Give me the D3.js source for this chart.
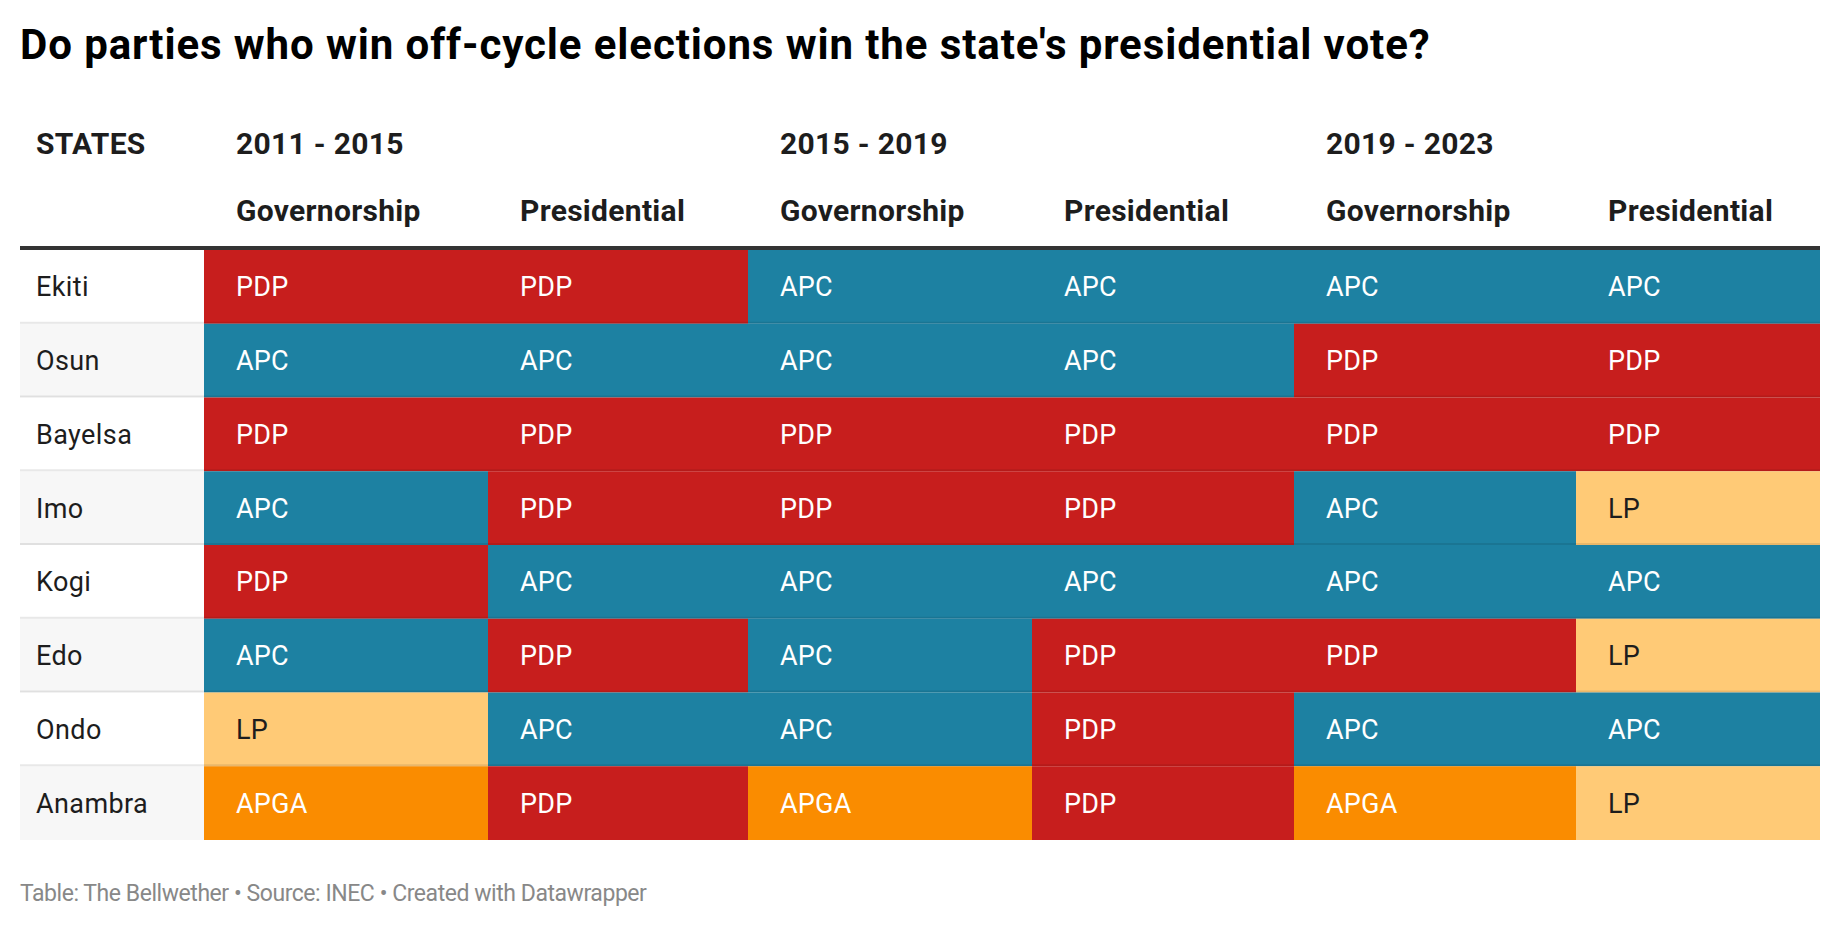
<!DOCTYPE html>
<html>
<head>
<meta charset="utf-8">
<script src="https://cdn.jsdelivr.net/npm/d3@7"></script>
<style>
  body { margin: 0; background: #fff; }
  text { font-family: Roboto, "Noto Sans", sans-serif; }
</style>
</head>
<body>
<script>
// data
var title = "Do parties who win off-cycle elections win the state's presidential vote?";
var footer = "Table: The Bellwether \u2022 Source: INEC \u2022 Created with Datawrapper";
var states = ['Ekiti', 'Osun', 'Bayelsa', 'Imo', 'Kogi', 'Edo', 'Ondo', 'Anambra'];
var periods = ['2011 - 2015', '2015 - 2019', '2019 - 2023'];
var elections = ['Governorship', 'Presidential'];
// one row per state, columns: gov/pres for each period
var results = [
  ['PDP', 'PDP', 'APC', 'APC', 'APC', 'APC'],
  ['APC', 'APC', 'APC', 'APC', 'PDP', 'PDP'],
  ['PDP', 'PDP', 'PDP', 'PDP', 'PDP', 'PDP'],
  ['APC', 'PDP', 'PDP', 'PDP', 'APC', 'LP'],
  ['PDP', 'APC', 'APC', 'APC', 'APC', 'APC'],
  ['APC', 'PDP', 'APC', 'PDP', 'PDP', 'LP'],
  ['LP', 'APC', 'APC', 'PDP', 'APC', 'APC'],
  ['APGA', 'PDP', 'APGA', 'PDP', 'APGA', 'LP']
];
var parties = ['PDP', 'APC', 'LP', 'APGA'];
var party_colors = ['#c71e1d', '#1d81a2', '#ffca76', '#fa8c00'];
var party_text = ['#ffffff', '#ffffff', '#1d1d1d', '#ffffff'];

// layout
var width = 1840, height = 926;
var left = 20, right = 1820;
var state_w = 184;
var col_widths = [284, 260, 284, 262, 282, 244]; // gov columns a bit wider
var table_top = 250, table_bottom = 840;
var pad = 32;

var svg = d3.select('body').append('svg').attr('width', width).attr('height', height);

// column keys and x positions
var cols = [];
periods.forEach(function(p, i) {
  elections.forEach(function(e, j) { cols.push({period: p, election: e, idx: i*2 + j}); });
});
var col_x = [];
var acc = left + state_w;
col_widths.forEach(function(w) { col_x.push(acc); acc += w; });

var x = d3.scaleOrdinal().domain(d3.range(cols.length)).range(col_x);
var xw = d3.scaleOrdinal().domain(d3.range(cols.length)).range(col_widths);
var y = d3.scaleBand().domain(states).range([table_top, table_bottom]);
var color = d3.scaleOrdinal().domain(parties).range(party_colors);
var textColor = d3.scaleOrdinal().domain(parties).range(party_text);

// title
svg.append('text').text(title)
  .attr('x', 20).attr('y', 59)
  .attr('font-size', '42px').attr('font-weight', 700).attr('letter-spacing', '0.9px').attr('fill', '#000');

// headers
svg.append('text').text('STATES')
  .attr('x', left + 16).attr('y', 154)
  .attr('font-size', '30px').attr('font-weight', 700).attr('letter-spacing', '0.3px').attr('fill', '#1d1d1d');

svg.selectAll('.period').data(periods).enter().append('text')
  .attr('class', 'period')
  .text(d => d)
  .attr('x', (d, i) => x(i*2) + pad).attr('y', 154)
  .attr('font-size', '30px').attr('font-weight', 700).attr('letter-spacing', '0.3px').attr('fill', '#1d1d1d');

svg.selectAll('.election').data(cols).enter().append('text')
  .attr('class', 'election')
  .text(d => d.election)
  .attr('x', d => x(d.idx) + pad).attr('y', 221)
  .attr('font-size', '30px').attr('font-weight', 700).attr('letter-spacing', '0.3px').attr('fill', '#1d1d1d');

// rows
var rows = svg.selectAll('.row').data(states).enter().append('g')
  .attr('class', 'row')
  .attr('transform', d => 'translate(0,' + y(d) + ')');

rows.append('rect')
  .attr('x', left).attr('width', state_w).attr('height', y.bandwidth())
  .attr('fill', (d, i) => i % 2 ? '#f7f7f7' : '#ffffff');

rows.append('text').text(d => d)
  .attr('x', left + 16).attr('y', y.bandwidth()/2 + 9.6)
  .attr('font-size', '27px').attr('letter-spacing', '0.4px').attr('fill', '#1d1d1d');

var cells = rows.selectAll('.cell').data((d, i) => results[i].map((p, j) => ({party: p, idx: j})))
  .enter().append('g').attr('class', 'cell');

cells.append('rect')
  .attr('x', d => x(d.idx)).attr('width', d => xw(d.idx))
  .attr('height', y.bandwidth())
  .attr('fill', d => color(d.party));

cells.append('text').text(d => d.party)
  .attr('x', d => x(d.idx) + pad).attr('y', y.bandwidth()/2 + 9.6)
  .attr('font-size', '27px').attr('letter-spacing', '0.2px').attr('fill', d => textColor(d.party));

// row separators
svg.selectAll('.sep').data(states.slice(0, -1)).enter().append('rect')
  .attr('class', 'sep')
  .attr('x', left).attr('width', right - left)
  .attr('y', d => y(d) + y.bandwidth() - 2).attr('height', 2)
  .attr('fill', '#000').attr('fill-opacity', 0.09);

// header rule
svg.append('rect')
  .attr('x', left).attr('width', right - left)
  .attr('y', table_top - 4).attr('height', 4)
  .attr('fill', '#333');

// footer
svg.append('text').text(footer)
  .attr('x', 20).attr('y', 901)
  .attr('font-size', '23px').attr('letter-spacing', '-0.45px').attr('fill', '#888');
</script>
</body>
</html>
